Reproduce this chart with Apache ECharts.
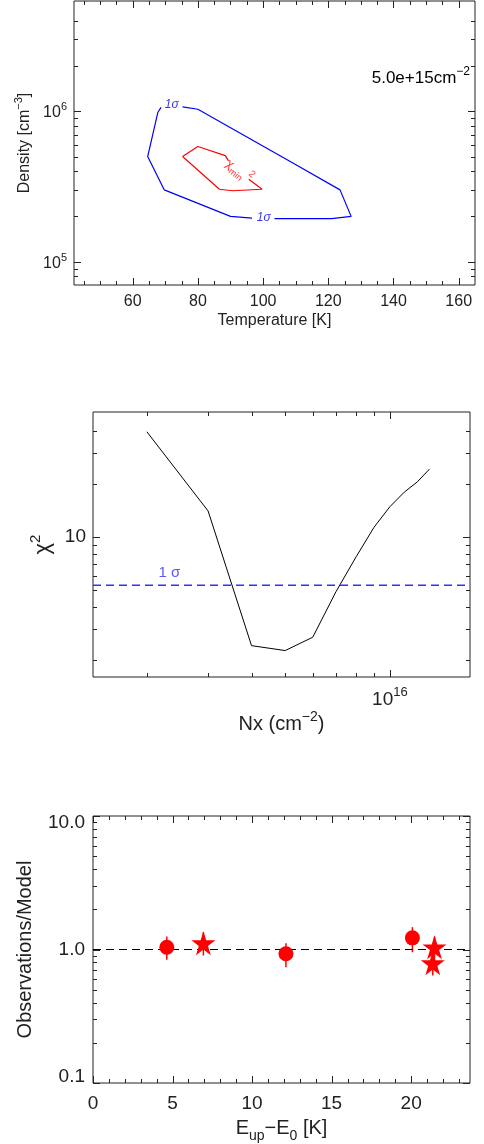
<!DOCTYPE html>
<html>
<head>
<meta charset="utf-8">
<script src="https://cdn.jsdelivr.net/npm/echarts@6/dist/echarts.min.js"></script>
<style>
  html, body { margin: 0; padding: 0; background: #fff; }
  #chart { width: 484px; height: 1144px; }
</style>
</head>
<body>
<div id="chart"></div>
<script>
// ---- panel 1: density / temperature contours
const tempRange = [42, 165]
const densRange = [7e4, 5.4e6]
const tempMajorTicks = [60, 80, 100, 120, 140, 160]
const tempMinorTicks = [45, 50, 55, 65, 70, 75, 85, 90, 95, 105, 110, 115, 125, 130, 135, 145, 150, 155]
const densMajorTicks = [1e5, 1e6]
const densMinorTicks = [8e4, 9e4, 2e5, 3e5, 4e5, 5e5, 6e5, 7e5, 8e5, 9e5, 2e6, 3e6, 4e6]
// null = gap where the contour label sits
const sigmaT = [75.3, 80, 109, 123.6, 127, 121, 103.5, null, 96.6, 90, 69.7, 64.6, 67.7, 68.7]
const sigmaN = [1.07e6, 1.03e6, 4.55e5, 3.0e5, 2.0e5, 1.93e5, 1.93e5, null, 1.95e5, 2.0e5, 3.0e5, 5.0e5, 9.8e5, 1.06e6]
const minT = [75.3, 80, 88.4, 89.4, null, 95.6, 99.7, 90.6, 86.6, 75.3]
const minN = [5.0e5, 5.83e5, 5.07e5, 4.68e5, null, 3.53e5, 3.03e5, 2.96e5, 3.03e5, 5.0e5]
const sigmaLabelT = [72.0, 100.2]
const sigmaLabelN = [1.11e6, 1.976e5]
const minLabelT = 92.7
const minLabelN = 4.01e5
const columnDensity = '5.0e+15'

// ---- panel 2: chi2 vs column density
const nxRange = [1.4e15, 1.7e16]
const chiRange = [1.6, 51]
const nxValues = [2e15, 3e15, 4e15, 5e15, 6e15, 7e15, 8e15, 9e15, 1e16, 1.1e16, 1.2e16, 1.3e16]
const chi2Values = [39.4, 14.0, 2.41, 2.26, 2.69, 4.88, 7.7, 11.3, 14.8, 17.9, 20.5, 24.2]
const oneSigmaLevel = 5.3
const oneSigmaLabelX = 2.32e15
const oneSigmaLabelY = 6.2
const nxMajorTicks = [1e16]
const nxMinorTicks = [2e15, 3e15, 4e15, 5e15, 6e15, 7e15, 8e15, 9e15]
const chiMajorTicks = [10]
const chiMinorTicks = [2, 3, 4, 5, 6, 7, 8, 9, 20, 30, 40]

// ---- panel 3: observations / model
const eupRange = [0, 23.7]
const ratioRange = [0.1, 10]
const eupLabels = [0, 5, 10, 15, 20]
const eupMinorTicks = [1, 2, 3, 4, 6, 7, 8, 9, 11, 12, 13, 14, 16, 17, 18, 19, 21, 22, 23]
const ratioMajorTicks = [0.1, 1, 10]
const ratioMinorTicks = [0.2, 0.3, 0.4, 0.5, 0.6, 0.7, 0.8, 0.9, 2, 3, 4, 5, 6, 7, 8, 9]
const circleE = [4.64, 12.13, 20.08]
const circleRatio = [1.04, 0.929, 1.223]
const circleLo = [0.837, 0.737, 0.954]
const circleHi = [1.25, 1.115, 1.47]
const starE = [6.94, 21.47, 21.36]
const starRatio = [1.115, 1.04, 0.79]
const starLo = [0.902, 0.86, 0.64]
const starHi = [1.35, 1.25, 0.954]

const FONT = 'Liberation Sans'
const INK = '#222'
const STAR = 'path://M50,0 L61.2,34.5 L97.6,34.5 L68.2,55.9 L79.4,90.5 L50,69.1 L20.6,90.5 L31.8,55.9 L2.4,34.5 L38.8,34.5 Z'

function rich(size, color, withSub) {
  const small = Math.round(size * 0.68)
  const lift = withSub ? Math.round(size * 0.25) : 0
  return {
    base: { fontSize: size, fontFamily: FONT, color, verticalAlign: 'bottom', padding: [0, 0, lift, 0] },
    sup: { fontSize: small, fontFamily: FONT, color, verticalAlign: 'bottom', padding: [0, 0, lift + Math.round(size * 0.5), 0] },
    sub: { fontSize: small, fontFamily: FONT, color, verticalAlign: 'bottom' }
  }
}

const zip = (a, b) => a.map((v, i) => (v == null ? ['-', '-'] : [v, b[i]]))

// inward tick marks on both sides of a grid, placed through the axis scales
function tickMarks(grid, dim, values, ref, len) {
  return {
    type: 'custom',
    xAxisIndex: grid,
    yAxisIndex: grid,
    silent: true,
    clip: false,
    z: 5,
    data: values.map((v) => (dim === 'x' ? [v, ref] : [ref, v])),
    renderItem(params, api) {
      const cs = params.coordSys
      const p = api.coord([api.value(0), api.value(1)])
      const px = Math.round(p[0]) + 0.5
      const py = Math.round(p[1]) + 0.5
      const segs = dim === 'x'
        ? [[px, cs.y + cs.height, px, cs.y + cs.height - len], [px, cs.y, px, cs.y + len]]
        : [[cs.x, py, cs.x + len, py], [cs.x + cs.width, py, cs.x + cs.width - len, py]]
      return {
        type: 'group',
        children: segs.map((s) => ({
          type: 'line',
          shape: { x1: s[0], y1: s[1], x2: s[2], y2: s[3] },
          style: { stroke: INK, lineWidth: 1 }
        }))
      }
    }
  }
}

const hidden = { axisLine: { show: false }, axisTick: { show: false }, splitLine: { show: false } }
const pow10 = (v) => '{base|10}{sup|' + Math.round(Math.log10(v)) + '}'

const chart = echarts.init(document.getElementById('chart'), null, { renderer: 'canvas' })
chart.setOption({
  animation: false,
  backgroundColor: '#fff',
  textStyle: { fontFamily: FONT, color: INK },
  grid: [
    { left: 74, top: 1, width: 401, height: 284, show: true, borderColor: INK, borderWidth: 1 },
    { left: 93, top: 412, width: 377, height: 265, show: true, borderColor: INK, borderWidth: 1 },
    { left: 93, top: 816, width: 377, height: 267, show: true, borderColor: INK, borderWidth: 1 }
  ],
  xAxis: [
    {
      gridIndex: 0, type: 'value', min: tempRange[0], max: tempRange[1], ...hidden,
      axisLabel: { customValues: tempMajorTicks, margin: 9, fontSize: 16, fontFamily: FONT, color: INK },
      name: 'Temperature [K]', nameLocation: 'middle', nameGap: 28,
      nameTextStyle: { fontSize: 16, fontFamily: FONT, color: INK }
    },
    {
      gridIndex: 1, type: 'log', min: nxRange[0], max: nxRange[1], ...hidden,
      axisLabel: { formatter: pow10, showMinLabel: false, showMaxLabel: false, margin: 9, rich: rich(19, INK) },
      name: '{base|Nx (cm}{sup|−2}{base|)}', nameLocation: 'middle', nameGap: 33,
      nameTextStyle: { rich: rich(20, INK) }
    },
    {
      gridIndex: 2, type: 'value', min: eupRange[0], max: eupRange[1], ...hidden,
      axisLabel: { customValues: eupLabels, margin: 11, fontSize: 19, fontFamily: FONT, color: INK },
      name: '{base|E}{sub|up}{base|−E}{sub|0}{base| [K]}', nameLocation: 'middle', nameGap: 35,
      nameTextStyle: { rich: rich(20, INK, true) }
    }
  ],
  yAxis: [
    {
      gridIndex: 0, type: 'log', min: densRange[0], max: densRange[1], ...hidden,
      axisLabel: { formatter: pow10, showMinLabel: false, showMaxLabel: false, margin: 7, rich: rich(16, INK) },
      name: '{base|Density [cm}{sup|−3}{base|]}', nameLocation: 'middle', nameGap: 31, nameRotate: 90,
      nameTextStyle: { rich: rich(16, INK) }
    },
    {
      gridIndex: 1, type: 'log', min: chiRange[0], max: chiRange[1], ...hidden,
      axisLabel: { formatter: (v) => String(Math.round(v)), showMinLabel: false, showMaxLabel: false, margin: 7, fontSize: 19, fontFamily: FONT, color: INK },
      name: '{base|χ}{sup|2}', nameLocation: 'middle', nameGap: 34, nameRotate: 90,
      nameTextStyle: { rich: rich(22, INK) }
    },
    {
      gridIndex: 2, type: 'log', min: ratioRange[0], max: ratioRange[1], ...hidden,
      axisLabel: {
        formatter: (v) => v.toFixed(1), showMinLabel: true, showMaxLabel: true, margin: 8,
        fontSize: 19, lineHeight: 13, fontFamily: FONT, color: INK,
        verticalAlignMinLabel: 'bottom', verticalAlignMaxLabel: 'top'
      },
      name: 'Observations/Model', nameLocation: 'middle', nameGap: 58, nameRotate: 90,
      nameTextStyle: { fontSize: 20, fontFamily: FONT, color: INK }
    }
  ],
  graphic: [{
    type: 'text', x: 470, y: 76,
    style: { text: '{base|' + columnDensity + 'cm}{sup|−2}', align: 'right', verticalAlign: 'middle', rich: rich(17, INK) }
  }],
  series: [
    // panel 1
    {
      type: 'line', xAxisIndex: 0, yAxisIndex: 0, data: zip(sigmaT, sigmaN), showSymbol: false,
      connectNulls: false, lineStyle: { color: '#0000ff', width: 1.2 }, silent: true
    },
    {
      type: 'line', xAxisIndex: 0, yAxisIndex: 0, data: zip(minT, minN), showSymbol: false,
      connectNulls: false, lineStyle: { color: '#ff0000', width: 1.2 }, silent: true
    },
    {
      type: 'scatter', xAxisIndex: 0, yAxisIndex: 0, symbolSize: 0, silent: true,
      data: zip(sigmaLabelT, sigmaLabelN),
      label: { show: true, position: 'inside', formatter: () => '1σ', fontSize: 12, fontStyle: 'italic', fontFamily: FONT, color: '#0000ff' }
    },
    {
      type: 'scatter', xAxisIndex: 0, yAxisIndex: 0, symbolSize: 0, silent: true,
      data: [[minLabelT, minLabelN]],
      label: {
        show: true, position: 'inside', rotate: -38, formatter: () => '{g|χ}{s|min}{p| 2}',
        rich: {
          g: { fontSize: 13, fontFamily: FONT, color: '#ff0000', verticalAlign: 'bottom', padding: [0, 0, 3, 0] },
          s: { fontSize: 9, fontFamily: FONT, color: '#ff0000', verticalAlign: 'bottom' },
          p: { fontSize: 10, fontFamily: FONT, color: '#ff0000', verticalAlign: 'bottom', padding: [0, 0, 10, 0] }
        }
      }
    },
    tickMarks(0, 'x', tempMajorTicks, densRange[0], 7),
    tickMarks(0, 'x', tempMinorTicks, densRange[0], 4),
    tickMarks(0, 'y', densMajorTicks, tempRange[0], 7),
    tickMarks(0, 'y', densMinorTicks, tempRange[0], 4),

    // panel 2
    {
      type: 'line', xAxisIndex: 1, yAxisIndex: 1, data: zip(nxValues, chi2Values), showSymbol: false,
      lineStyle: { color: '#000', width: 1 }, silent: true
    },
    {
      type: 'line', xAxisIndex: 1, yAxisIndex: 1, data: [[nxRange[0], oneSigmaLevel], [nxRange[1], oneSigmaLevel]],
      showSymbol: false, lineStyle: { color: '#3030ff', width: 1.5, type: [8, 5] }, silent: true
    },
    {
      type: 'scatter', xAxisIndex: 1, yAxisIndex: 1, symbolSize: 0, silent: true,
      data: [[oneSigmaLabelX, oneSigmaLabelY]],
      label: { show: true, position: 'inside', formatter: () => '1 σ', fontSize: 15, fontFamily: FONT, color: '#3030ff' }
    },
    tickMarks(1, 'x', nxMajorTicks, chiRange[0], 7),
    tickMarks(1, 'x', nxMinorTicks, chiRange[0], 4),
    tickMarks(1, 'y', chiMajorTicks, nxRange[0], 7),
    tickMarks(1, 'y', chiMinorTicks, nxRange[0], 4),

    // panel 3
    {
      type: 'line', xAxisIndex: 2, yAxisIndex: 2, data: [[eupRange[0], 1], [eupRange[1], 1]],
      showSymbol: false, lineStyle: { color: '#000', width: 1.2, type: [8, 5] }, silent: true
    },
    {
      type: 'custom', xAxisIndex: 2, yAxisIndex: 2, silent: true, z: 3,
      data: circleE.map((e, i) => [e, circleLo[i], circleHi[i]])
        .concat(starE.map((e, i) => [e, starLo[i], starHi[i]])),
      encode: { x: 0, y: [1, 2] },
      renderItem(params, api) {
        const lo = api.coord([api.value(0), api.value(1)])
        const hi = api.coord([api.value(0), api.value(2)])
        return {
          type: 'line',
          shape: { x1: lo[0], y1: lo[1], x2: hi[0], y2: hi[1] },
          style: { stroke: '#ff0000', lineWidth: 1.5 }
        }
      }
    },
    {
      type: 'scatter', xAxisIndex: 2, yAxisIndex: 2, z: 4, silent: true,
      data: zip(circleE, circleRatio), symbol: 'circle', symbolSize: 15,
      itemStyle: { color: '#ff0000', opacity: 1 }
    },
    {
      type: 'scatter', xAxisIndex: 2, yAxisIndex: 2, z: 4, silent: true,
      data: zip(starE, starRatio), symbol: STAR, symbolSize: 24,
      itemStyle: { color: '#ff0000', opacity: 1 }
    },
    tickMarks(2, 'x', eupLabels, ratioRange[0], 7),
    tickMarks(2, 'x', eupMinorTicks, ratioRange[0], 4),
    tickMarks(2, 'y', ratioMajorTicks, eupRange[0], 7),
    tickMarks(2, 'y', ratioMinorTicks, eupRange[0], 4)
  ]
})
</script>
</body>
</html>
